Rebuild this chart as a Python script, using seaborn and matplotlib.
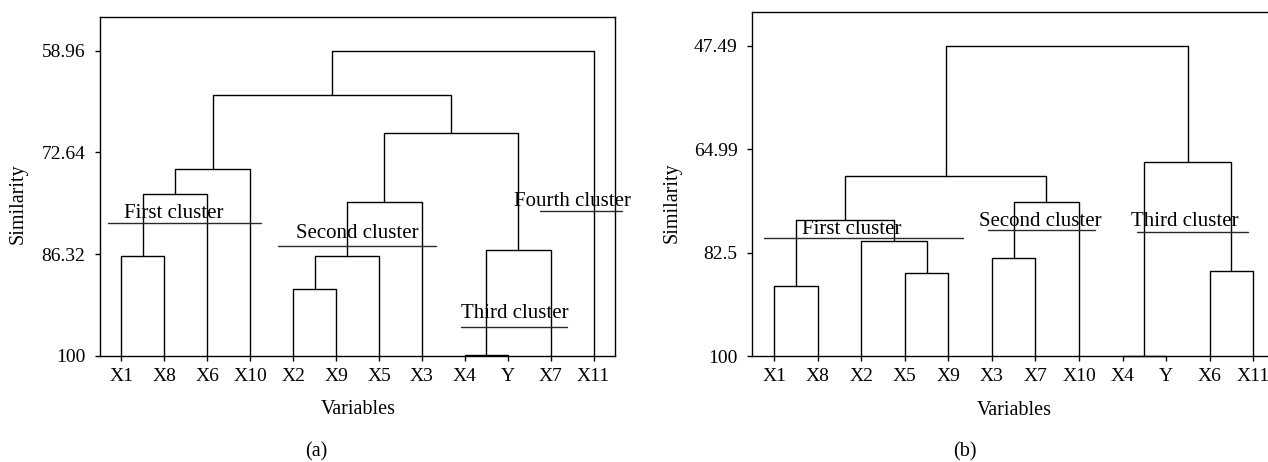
import matplotlib
matplotlib.use("Agg")
import matplotlib.pyplot as plt
import pandas as pd
import seaborn as sns

# ---- data -------------------------------------------------------------
# (a) leaf order and agglomeration steps: (left, right, similarity)
leaves_a = ["X1", "X8", "X6", "X10", "X2", "X9", "X5", "X3", "X4", "Y", "X7", "X11"]
merges_a = [
    ("X1", "X8", 86.52),   # 0
    (0, "X6", 78.23),      # 1
    (1, "X10", 74.83),     # 2
    ("X2", "X9", 91.00),   # 3
    (3, "X5", 86.52),      # 4
    (4, "X3", 79.30),      # 5
    ("X4", "Y", 99.85),    # 6
    (6, "X7", 85.71),      # 7
    (5, 7, 69.99),         # 8
    (2, 8, 64.88),         # 9
    (9, "X11", 58.96),     # 10
]
yticks_a = [58.96, 72.64, 86.32, 100]
yticklabels_a = ["58.96", "72.64", "86.32", "100"]
clusters_a = ["First cluster", "Second cluster", "Third cluster", "Fourth cluster"]

# (b)
leaves_b = ["X1", "X8", "X2", "X5", "X9", "X3", "X7", "X10", "X4", "Y", "X6", "X11"]
merges_b = [
    ("X1", "X8", 88.10),   # 0
    ("X5", "X9", 86.00),   # 1
    ("X2", 1, 80.59),      # 2
    (0, 2, 76.98),         # 3
    ("X3", "X7", 83.47),   # 4
    (4, "X10", 73.88),     # 5
    (3, 5, 69.48),         # 6
    ("X4", "Y", 100.0),    # 7
    ("X6", "X11", 85.61),  # 8
    (7, 8, 67.17),         # 9
    (6, 9, 47.49),         # 10
]
yticks_b = [47.49, 64.99, 82.5, 100]
yticklabels_b = ["47.49", "64.99", "82.5", "100"]
clusters_b = ["First cluster", "Second cluster", "Third cluster"]

# ---- layout of the cluster cut markers (x0, x1, y_line, x_text, y_text) --
cut_layout_a = [
    (-0.31, 3.24, 82.12, 1.23, 81.49),
    (3.64, 7.33, 85.18, 5.50, 84.18),
    (7.91, 10.37, 96.06, 9.17, 94.93),
    (9.75, 11.66, 80.51, 10.52, 79.84),
]
cut_layout_b = [
    (-0.22, 4.33, 80.03, 1.78, 79.35),
    (4.92, 7.37, 78.67, 6.12, 78.00),
    (8.33, 10.89, 79.06, 9.42, 78.00),
]


def dendrogram_segments(leaves, merges):
    """Turn agglomeration steps into the U-shaped links of a dendrogram."""
    pos = {name: float(i) for i, name in enumerate(leaves)}
    height = {name: 100.0 for name in leaves}
    rows = []
    for k, (left, right, h) in enumerate(merges):
        xl, xr = pos[left], pos[right]
        yl, yr = height[left], height[right]
        rows += [(k, xl, yl), (k, xl, h), (k, xr, h), (k, xr, yr)]
        pos[k] = (xl + xr) / 2.0
        height[k] = h
    return pd.DataFrame(rows, columns=["link", "x", "y"])


sns.set_theme(style="ticks")
plt.rcParams["font.family"] = ["Liberation Serif", "DejaVu Serif"]
plt.rcParams["axes.linewidth"] = 1.0
plt.rcParams["xtick.major.width"] = 1.0
plt.rcParams["ytick.major.width"] = 1.0
plt.rcParams["xtick.major.size"] = 3.6
plt.rcParams["ytick.major.size"] = 3.6
plt.rcParams["xtick.color"] = "black"
plt.rcParams["ytick.color"] = "black"
plt.rcParams["xtick.labelcolor"] = "black"
plt.rcParams["ytick.labelcolor"] = "black"
plt.rcParams["axes.edgecolor"] = "black"
plt.rcParams["axes.labelcolor"] = "black"
plt.rcParams["text.color"] = "black"

W, H = 1268, 462
fig = plt.figure(figsize=(W / 100, H / 100), dpi=100)
ax_a = fig.add_axes([100 / W, 1 - 356 / H, 515 / W, 339 / H])
ax_b = fig.add_axes([752.3 / W, 1 - 356 / H, 522.7 / W, 344 / H])

panels = [
    (ax_a, leaves_a, merges_a, yticks_a, yticklabels_a, clusters_a, cut_layout_a,
     (100, 54.43), (-0.1586, 0.448), (0.501, -0.159), 316.5, "(a)"),
    (ax_b, leaves_b, merges_b, yticks_b, yticklabels_b, clusters_b, cut_layout_b,
     (100, 41.78), (-0.1542, 0.446), (0.502, -0.157), 965, "(b)"),
]

for (ax, leaves, merges, yticks, yticklabels, clusters, cuts,
     ylim, ylab_xy, xlab_xy, tag_x, tag) in panels:
    seg = dendrogram_segments(leaves, merges)
    sns.lineplot(data=seg, x="x", y="y", units="link", estimator=None,
                 sort=False, color="black", lw=1.0, legend=False, ax=ax,
                 clip_on=False)

    ax.set_xlim(-0.5, 11.5)
    ax.set_ylim(*ylim)
    ax.set_xticks(range(len(leaves)))
    ax.set_xticklabels(leaves, fontsize=14)
    ax.set_yticks(yticks)
    ax.set_yticklabels(yticklabels, fontsize=14)
    ax.tick_params(axis="y", pad=7)
    ax.tick_params(axis="x", pad=5)

    ax.set_ylabel("Similarity", fontsize=14.5, va="center")
    ax.yaxis.set_label_coords(*ylab_xy)
    ax.set_xlabel("Variables", fontsize=14.5, va="center")
    ax.xaxis.set_label_coords(*xlab_xy)

    for name, (x0, x1, yl, xt, yt) in zip(clusters, cuts):
        ax.plot([x0, x1], [yl, yl], color="#2a2a2a", lw=1.0, clip_on=False)
        ax.text(xt, yt, name, fontsize=15, ha="center", va="baseline",
                clip_on=False)

    for side in ["top", "right", "left", "bottom"]:
        ax.spines[side].set_visible(True)

    fig.text(tag_x / W, 1 - 452 / H, tag, fontsize=14.5, ha="center", va="center")

fig.savefig("out.png", dpi=100)
